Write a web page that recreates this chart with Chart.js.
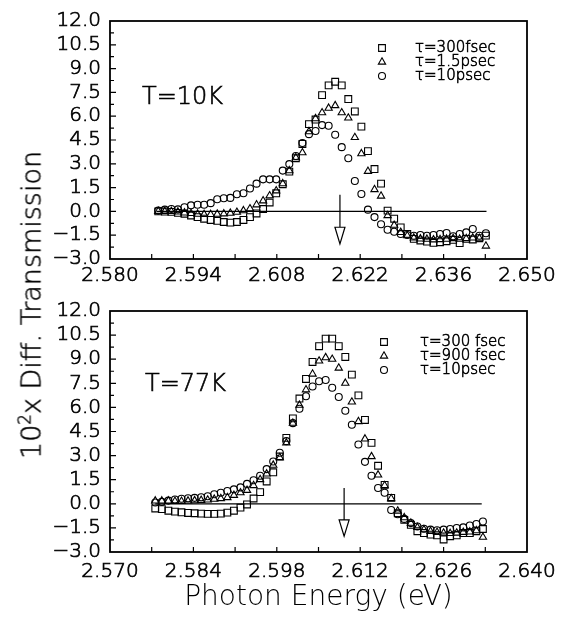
<!DOCTYPE html>
<html>
<head>
<meta charset="utf-8">
<script src="https://cdn.jsdelivr.net/npm/chart.js@4.4.1/dist/chart.umd.min.js"></script>
<style>
  html, body { margin: 0; padding: 0; background: #fff; }
  #wrap { position: relative; width: 565px; height: 617px; overflow: hidden; background: #fff; }
  #cTop { position: absolute; left: 0; top: 0; width: 565px; height: 290px; }
  #cBot { position: absolute; left: 0; top: 290px; width: 565px; height: 327px; }
  #yTitle {
    position: absolute; left: 31px; top: 305px;
    transform: translate(-50%, -50%) rotate(-90deg);
    white-space: nowrap; font-family: 'DejaVu Sans', sans-serif;
    font-size: 27px; font-weight: 300; color: #000;
    -webkit-text-stroke: 0.5px #000;
  }
  #yTitle .sup { font-size: 0.62em; position: relative; top: -0.6em; }
</style>
</head>
<body>
<div id="wrap">
  <canvas id="cTop" width="565" height="290"></canvas>
  <canvas id="cBot" width="565" height="327"></canvas>
  <div id="yTitle">10<span class="sup">2</span>x Diff. Transmission</div>
</div>
<script>
const FONT = "'DejaVu Sans', sans-serif";
const INK = '#000';

// ---- T = 10 K panel ----
const energyTop = [2.5881, 2.5892, 2.5903, 2.5914, 2.5925, 2.5936, 2.5947, 2.5958, 2.5969, 2.5980,
  2.5991, 2.6002, 2.6013, 2.6024, 2.6035, 2.6046, 2.6057, 2.6068, 2.6079, 2.6090,
  2.6101, 2.6112, 2.6123, 2.6134, 2.6145, 2.6156, 2.6167, 2.6178, 2.6189, 2.6200,
  2.6211, 2.6222, 2.6233, 2.6244, 2.6255, 2.6266, 2.6277, 2.6288, 2.6299, 2.6310,
  2.6321, 2.6332, 2.6343, 2.6354, 2.6365, 2.6376, 2.6387, 2.6398, 2.6409, 2.6420, 2.6431];
const dtTop300fs = [0.00, -0.01, -0.03, -0.09, -0.15, -0.26, -0.36, -0.46, -0.54, -0.60,
  -0.67, -0.71, -0.67, -0.54, -0.36, -0.13, 0.15, 0.56, 1.14, 1.71,
  2.51, 3.35, 4.25, 5.50, 5.79, 7.33, 7.94, 8.17, 7.94, 7.08,
  6.30, 5.34, 3.80, 2.67, 1.75, 0.05, -0.46, -1.01, -1.42, -1.73,
  -1.83, -1.90, -1.98, -1.94, -1.88, -1.79, -2.00, -1.73, -1.77, -1.69, -1.53];
const dtTop1p5ps = [0.01, 0.00, 0.00, -0.03, -0.09, -0.13, -0.17, -0.19, -0.19, -0.17,
  -0.15, -0.11, -0.05, 0.05, 0.17, 0.42, 0.67, 0.99, 1.30, 1.75,
  2.57, 3.39, 3.70, 5.03, 5.85, 6.22, 6.51, 6.67, 6.22, 5.89,
  4.66, 3.64, 2.53, 1.38, 0.97, -0.26, -0.87, -1.32, -1.53, -1.67,
  -1.73, -1.75, -1.79, -1.77, -1.75, -1.71, -1.75, -1.71, -1.67, -1.69, -2.18];
const dtTop10ps = [0.05, 0.11, 0.15, 0.13, 0.26, 0.38, 0.42, 0.42, 0.52, 0.77,
  0.83, 0.85, 1.08, 1.14, 1.44, 1.75, 2.02, 2.02, 2.02, 2.57,
  2.98, 3.49, 4.31, 4.87, 5.07, 5.44, 5.40, 4.83, 4.05, 3.35,
  1.92, 1.10, 0.11, -0.36, -0.81, -1.16, -1.28, -1.42, -1.49, -1.53,
  -1.49, -1.53, -1.49, -1.42, -1.36, -1.57, -1.42, -1.32, -1.11, -1.53, -1.38];
const namesTop = ['\u03c4=300fsec', '\u03c4=1.5psec', '\u03c4=10psec'];
const xTicksTop = [2.580, 2.594, 2.608, 2.622, 2.636, 2.650];
const xTickLabelsTop = ['2.580', '2.594', '2.608', '2.622', '2.636', '2.650'];
const zeroLineTop = [2.5878, 2.6432];
const arrowTop = { x: 2.6186, from: 1.05, head: -1.0, tip: -2.05 };

// ---- T = 77 K panel ----
const energyBot = [2.5776, 2.5787, 2.5798, 2.5809, 2.5820, 2.5831, 2.5842, 2.5853, 2.5864, 2.5875,
  2.5886, 2.5897, 2.5908, 2.5919, 2.5930, 2.5941, 2.5952, 2.5963, 2.5974, 2.5985,
  2.5996, 2.6007, 2.6018, 2.6029, 2.6040, 2.6051, 2.6062, 2.6073, 2.6084, 2.6095,
  2.6106, 2.6117, 2.6128, 2.6139, 2.6150, 2.6161, 2.6172, 2.6183, 2.6194, 2.6205,
  2.6216, 2.6227, 2.6238, 2.6249, 2.6260, 2.6271, 2.6282, 2.6293, 2.6304, 2.6315, 2.6326];
const dtBot300fs = [-0.29, -0.33, -0.43, -0.49, -0.53, -0.57, -0.59, -0.61, -0.63, -0.63,
  -0.61, -0.55, -0.43, -0.24, -0.04, 0.33, 0.73, 1.39, 1.96, 2.94,
  4.10, 5.32, 6.55, 7.77, 8.83, 9.81, 10.28, 10.28, 9.81, 9.14,
  8.04, 6.75, 5.22, 3.79, 2.37, 1.18, 0.37, -0.59, -1.00, -1.31,
  -1.71, -1.82, -1.92, -1.96, -2.22, -2.02, -1.96, -1.82, -1.82, -1.71, -1.57];
const dtBot900fs = [0.18, 0.18, 0.18, 0.16, 0.16, 0.18, 0.20, 0.22, 0.24, 0.29,
  0.33, 0.39, 0.53, 0.69, 0.84, 1.14, 1.51, 1.86, 2.41, 2.88,
  3.79, 5.02, 6.14, 7.10, 8.08, 8.89, 9.10, 9.00, 8.45, 7.51,
  6.34, 5.12, 4.04, 2.94, 1.80, 1.14, 0.33, -0.45, -0.86, -1.20,
  -1.47, -1.61, -1.71, -1.77, -1.82, -1.84, -1.82, -1.77, -1.75, -1.67, -2.08];
const dtBot10ps = [0.08, 0.12, 0.20, 0.27, 0.31, 0.35, 0.37, 0.41, 0.47, 0.59,
  0.69, 0.80, 0.90, 1.02, 1.24, 1.47, 1.75, 2.16, 2.63, 3.18,
  3.90, 5.02, 5.92, 6.69, 7.30, 7.63, 7.71, 7.22, 6.65, 5.79,
  4.92, 3.69, 2.61, 1.75, 0.98, 0.69, -0.39, -0.65, -0.94, -1.20,
  -1.41, -1.55, -1.61, -1.65, -1.61, -1.57, -1.51, -1.47, -1.35, -1.26, -1.10];
const namesBot = ['\u03c4=300 fsec', '\u03c4=900 fsec', '\u03c4=10psec'];
const xTicksBot = [2.570, 2.584, 2.598, 2.612, 2.626, 2.640];
const xTickLabelsBot = ['2.570', '2.584', '2.598', '2.612', '2.626', '2.640'];
const zeroLineBot = [2.5776, 2.6324];
const arrowBot = { x: 2.6093, from: 0.98, head: -1.0, tip: -2.02 };

// ---- shared vertical axis ----
const yTicks = [-3, -1.5, 0, 1.5, 3, 4.5, 6, 7.5, 9, 10.5, 12];
const yTickLabels = ['\u22123.0', '\u22121.5', '0.0', '1.5', '3.0', '4.5', '6.0', '7.5', '9.0', '10.5', '12.0'];

const markerStyles = [
  { pointStyle: 'rect', radius: 4.8 },
  { pointStyle: 'triangle', radius: 4.2 },
  { pointStyle: 'circle', radius: 3.5 }
];

function pairs(xs, ys) { return xs.map((x, i) => ({ x: x, y: ys[i] })); }

function drawMarker(ctx, style, radius, x, y) {
  if (Chart.helpers && Chart.helpers.drawPoint) {
    Chart.helpers.drawPoint(ctx, { pointStyle: style, radius: radius, rotation: 0, borderWidth: 1.1 }, x, y);
    return;
  }
  ctx.beginPath();
  if (style === 'rect') {
    const s = radius * Math.SQRT1_2;
    ctx.rect(x - s, y - s, 2 * s, 2 * s);
  } else if (style === 'triangle') {
    ctx.moveTo(x, y - radius);
    ctx.lineTo(x + radius * 0.866, y + radius * 0.5);
    ctx.lineTo(x - radius * 0.866, y + radius * 0.5);
    ctx.closePath();
  } else {
    ctx.arc(x, y, radius, 0, Math.PI * 2);
  }
  ctx.stroke();
}

// text drawn with a thin outline so the light face reads a little heavier
function inkText(ctx, text, x, y, stroke) {
  ctx.fillText(text, x, y);
  ctx.lineWidth = stroke;
  ctx.strokeText(text, x, y);
}

// Frame, inward ticks, the arrow, the temperature tag and the inset key
const panelDecor = {
  id: 'panelDecor',
  afterDatasetsDraw(chart, args, o) {
    const { ctx, chartArea: a } = chart;
    const x = chart.scales.x, y = chart.scales.y;
    ctx.save();
    ctx.strokeStyle = INK;
    ctx.lineWidth = 1.8;
    ctx.strokeRect(a.left, a.top, a.right - a.left, a.bottom - a.top);

    ctx.lineWidth = 1.2;
    ctx.beginPath();
    const nx = Math.round((x.max - x.min) / o.xTickStep);
    for (let k = 1; k < nx; k++) {
      const px = x.getPixelForValue(x.min + k * o.xTickStep);
      ctx.moveTo(px, a.bottom);
      ctx.lineTo(px, a.bottom - 5);
    }
    const ny = Math.round((y.max - y.min) / o.yTickStep);
    for (let k = 1; k < ny; k++) {
      const py = y.getPixelForValue(y.min + k * o.yTickStep);
      ctx.moveTo(a.left, py);
      ctx.lineTo(a.left + (k % 2 === 0 ? 6 : 4), py);
    }
    ctx.stroke();

    const ar = o.arrow;
    const ax = x.getPixelForValue(ar.x);
    const y0 = y.getPixelForValue(ar.from);
    const y1 = y.getPixelForValue(ar.head);
    const y2 = y.getPixelForValue(ar.tip);
    ctx.lineWidth = 1.2;
    ctx.beginPath();
    ctx.moveTo(ax, y0);
    ctx.lineTo(ax, y1);
    ctx.moveTo(ax - 5, y1);
    ctx.lineTo(ax + 5, y1);
    ctx.lineTo(ax, y2);
    ctx.closePath();
    ctx.stroke();

    ctx.fillStyle = INK;
    ctx.font = '300 24px ' + FONT;
    ctx.textBaseline = 'alphabetic';
    ctx.textAlign = 'left';
    inkText(ctx, o.tag, a.left + o.tagDx, a.top + o.tagDy, 0.6);

    ctx.font = '300 15px ' + FONT;
    ctx.textBaseline = 'middle';
    o.names.forEach((name, i) => {
      const ly = o.keyY + i * o.keyDy;
      ctx.lineWidth = 1.1;
      ctx.fillStyle = 'rgba(0,0,0,0)';
      drawMarker(ctx, markerStyles[i].pointStyle, markerStyles[i].radius, o.keyMarkX, ly);
      ctx.fillStyle = INK;
      inkText(ctx, name, o.keyTextX, ly, 0.6);
    });
    ctx.restore();
  }
};

function panelConfig(p) {
  const sets = [p.s300, p.sMid, p.s10].map((vals, i) => ({
    label: p.names[i],
    data: pairs(p.energy, vals),
    pointStyle: markerStyles[i].pointStyle,
    pointRadius: markerStyles[i].radius,
    pointBorderWidth: 1.1,
    pointBorderColor: INK,
    pointBackgroundColor: 'rgba(0,0,0,0)',
    showLine: false
  }));
  sets.push({
    label: 'baseline',
    data: [{ x: p.zero[0], y: 0 }, { x: p.zero[1], y: 0 }],
    showLine: true,
    pointRadius: 0,
    borderColor: INK,
    borderWidth: 1.3
  });
  const tickFont = { family: FONT, size: 20, weight: '300' };
  return {
    type: 'scatter',
    data: { datasets: sets },
    plugins: [panelDecor],
    options: {
      responsive: false,
      animation: false,
      events: [],
      layout: { padding: { top: p.padTop, right: 38, left: 0, bottom: 0 } },
      plugins: {
        legend: { display: false },
        tooltip: { enabled: false },
        panelDecor: {
          xTickStep: 0.007, yTickStep: 0.75, arrow: p.arrow,
          tag: p.tag, tagDx: p.tagDx, tagDy: p.tagDy,
          names: p.names, keyMarkX: p.keyMarkX, keyTextX: p.keyTextX, keyY: p.keyY, keyDy: 14
        }
      },
      scales: {
        x: {
          type: 'linear', min: p.xTicks[0], max: p.xTicks[p.xTicks.length - 1],
          afterBuildTicks: s => { s.ticks = p.xTicks.map(v => ({ value: v })); },
          afterFit: s => { s.height = p.xAxisH; },
          grid: { display: false, drawTicks: false },
          border: { display: false },
          ticks: {
            autoSkip: false, maxRotation: 0, padding: p.xPad, color: INK,
            textStrokeColor: INK, textStrokeWidth: 0.7,
            font: tickFont,
            callback: (v, i) => p.xLabels[i]
          },
          title: p.xTitle ? {
            display: true, text: p.xTitle, color: INK,
            font: { family: FONT, size: 28, weight: '300', lineHeight: 1.0 },
            padding: { top: 0, bottom: 5 }
          } : { display: false }
        },
        y: {
          type: 'linear', min: -3, max: 12,
          afterBuildTicks: s => { s.ticks = yTicks.map(v => ({ value: v })); },
          afterFit: s => { s.width = 110; },
          grid: { display: false, drawTicks: false },
          border: { display: false },
          ticks: {
            autoSkip: false, padding: 9, color: INK,
            textStrokeColor: INK, textStrokeWidth: 0.7,
            font: tickFont,
            callback: (v, i) => yTickLabels[i]
          }
        }
      }
    }
  };
}

new Chart(document.getElementById('cTop'), panelConfig({
  energy: energyTop, s300: dtTop300fs, sMid: dtTop1p5ps, s10: dtTop10ps,
  names: namesTop, xTicks: xTicksTop, xLabels: xTickLabelsTop,
  zero: zeroLineTop, arrow: arrowTop,
  padTop: 15, xAxisH: 31, xPad: 5, xTitle: null,
  tag: 'T=10K', tagDx: 32, tagDy: 83,
  keyMarkX: 382, keyTextX: 415, keyY: 48
}));

new Chart(document.getElementById('cBot'), panelConfig({
  energy: energyBot, s300: dtBot300fs, sMid: dtBot900fs, s10: dtBot10ps,
  names: namesBot, xTicks: xTicksBot, xLabels: xTickLabelsBot,
  zero: zeroLineBot, arrow: arrowBot,
  padTop: 20, xAxisH: 65, xPad: 8, xTitle: 'Photon Energy (eV)',
  tag: 'T=77K', tagDx: 35, tagDy: 80,
  keyMarkX: 384, keyTextX: 420, keyY: 52
}));
</script>
</body>
</html>
